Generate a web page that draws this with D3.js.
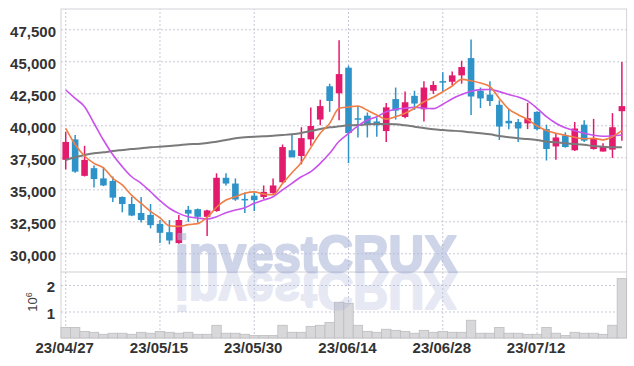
<!DOCTYPE html>
<html><head><meta charset="utf-8">
<script src="https://cdn.jsdelivr.net/npm/d3@7/dist/d3.min.js"></script>
<style>
html,body{margin:0;padding:0;background:#fff;}
svg{display:block;}
.tick text{font-family:"Liberation Sans Narrow","Liberation Sans",Arial,sans-serif;font-size:15px;font-weight:bold;fill:#333;}
</style></head>
<body><svg id="c" width="634" height="366"></svg>
<script>
const dates = ["23/04/27","23/04/28","23/05/02","23/05/03","23/05/04","23/05/08","23/05/09","23/05/10","23/05/11","23/05/12",
"23/05/15","23/05/16","23/05/17","23/05/18","23/05/19","23/05/22","23/05/23","23/05/24","23/05/25","23/05/26",
"23/05/30","23/05/31","23/06/01","23/06/02","23/06/05","23/06/07","23/06/08","23/06/09","23/06/12","23/06/13",
"23/06/14","23/06/15","23/06/16","23/06/19","23/06/20","23/06/21","23/06/22","23/06/23","23/06/26","23/06/27",
"23/06/28","23/06/29","23/06/30","23/07/03","23/07/04","23/07/05","23/07/06","23/07/07","23/07/10","23/07/11",
"23/07/12","23/07/13","23/07/14","23/07/17","23/07/18","23/07/19","23/07/20","23/07/21","23/07/24","23/07/25"];
const open  = [37300,38900,36050,36650,35850,35650,34400,33850,33150,33000,32300,31650,30800,33400,33450,32850,33300,35900,35450,34250,
34500,34400,34700,35550,38050,37600,38900,40450,43050,42500,44500,40550,40750,40300,39550,42050,40650,42300,41250,42700,
43450,43400,43900,45250,42700,42400,41600,40350,40250,40150,41050,39700,38350,39200,38050,40050,38150,37950,38100,41100];
const high  = [39500,39250,38400,36850,36750,36000,34450,34400,34400,33850,32600,32600,33000,33700,33500,33400,36250,36250,35850,34750,
34750,35300,35850,38500,39250,39850,41400,42000,43250,46650,44650,41500,41000,40600,41750,42950,42650,42700,43450,43450,
44150,44200,45050,46700,42950,43450,41950,41300,40500,41750,41100,40050,39350,39450,40250,40400,40500,38600,40950,44950];
const low   = [36550,36300,36000,35150,35250,34000,33200,32900,32400,31950,30800,30700,30750,32450,32400,31350,33250,35300,34100,33150,
33300,34250,34650,35500,37500,36950,38400,40000,41050,40400,37050,39050,39050,39100,38700,40450,40550,41200,40300,42450,
42600,43150,43250,40800,41350,41500,38850,39700,38700,39700,39600,37250,37300,38250,38000,38700,38100,37950,37450,38800];
const close = [38700,36380,37300,35800,35300,34350,33850,32950,32600,32200,31600,31000,32600,33100,32850,33350,35900,35450,34200,34200,
34150,34800,35300,38300,37500,39000,39950,41500,41900,44000,39400,40500,40100,40000,41400,41150,41800,41700,42950,43150,
43400,43900,44550,42250,42100,41900,39900,40150,39750,40550,39700,38150,39050,38300,39750,38800,38950,38350,39850,41500];
const volumeM = [0.40,0.40,0.25,0.215,0.14,0.18,0.18,0.14,0.215,0.18,0.25,0.215,0.18,0.215,0.14,0.14,0.48,0.18,0.18,0.14,
0.09,0.09,0.09,0.48,0.215,0.215,0.44,0.48,0.59,1.35,1.31,0.48,0.25,0.215,0.33,0.29,0.25,0.18,0.29,0.215,
0.25,0.215,0.215,0.67,0.18,0.18,0.40,0.18,0.18,0.14,0.14,0.40,0.18,0.09,0.215,0.18,0.18,0.14,0.48,2.24];
const maShort = [39766,38500,37600,37030,36680,35860,35340,34520,33900,33280,32770,32150,32100,32240,32320,32800,33600,34160,34420,34690,
34800,34620,34580,35450,36300,37100,38260,39380,40150,41330,41430,41510,41170,40800,40480,40670,40940,41330,41840,42190,
42620,43070,43590,43480,43300,43020,42100,41260,40830,40450,39950,39600,39380,39220,39060,38950,38980,38860,39110,39580];
const maMid = [42760,42110,41450,40160,38850,37700,36770,35980,35470,34810,34110,33520,33120,32860,32760,32680,32860,33170,33380,33560,
33910,34160,34420,34950,35470,35980,36380,37030,37810,38750,39360,39950,40410,40670,41060,41250,41330,41410,41330,41300,
41650,42080,42400,42660,42790,42800,42630,42410,42210,41910,41330,40670,40160,39800,39580,39380,39220,39140,39180,39240];
const maLong = [37290,37500,37680,37810,37890,37990,38070,38150,38200,38280,38330,38380,38440,38520,38540,38620,38720,38850,38980,39060,
39110,39140,39190,39240,39300,39400,39550,39710,39840,39920,40000,40020,40080,40100,40100,40080,40000,39890,39790,39690,
39630,39580,39530,39450,39380,39300,39160,39060,38980,38930,38850,38720,38670,38590,38540,38480,38380,38330,38280,38280];
const priceTicks = [30000,32500,35000,37500,40000,42500,45000,47500];
const volumeTicks = [1,2];
const dateTicks = ["23/04/27","23/05/15","23/05/30","23/06/14","23/06/28","23/07/12"];
const watermark = "investCRUX";

const svg = d3.select("#c");
const L = 61, R = 626.6, T = 9, MB = 272, VB = 338;
const UP = "#e31b6d", DOWN = "#2e93c8";
const x = d3.scaleBand().domain(dates).range([L, R]).padding(0);
const bw = x.bandwidth();
const cx = d => x(d) + bw / 2;
const y = d3.scaleLinear().domain([28539, 49086]).range([MB, T]);
const yv = d3.scaleLinear().domain([0, 2.49]).range([VB, MB]);

const gridStyle = g => {
  g.select(".domain").remove();
  g.selectAll(".tick line").attr("stroke", "#c6c8d8").attr("stroke-dasharray", "2,2").attr("stroke-width", 1);
};

// borders
svg.append("rect").attr("x", L).attr("y", T).attr("width", R - L).attr("height", VB - T)
  .attr("fill", "none").attr("stroke", "#d4d4d8").attr("stroke-width", 1);
svg.append("line").attr("x1", L).attr("x2", R).attr("y1", MB).attr("y2", MB).attr("stroke", "#d0d0d4");

// y axis main
svg.append("g").attr("transform", `translate(${L},0)`)
  .call(d3.axisLeft(y).tickValues(priceTicks).tickFormat(d3.format(",")).tickSize(-(R - L)).tickPadding(5))
  .call(gridStyle)
  .selectAll("text").attr("dy", "0.45em");

// volume axis
svg.append("g").attr("transform", `translate(${L},0)`)
  .call(d3.axisLeft(yv).tickValues(volumeTicks).tickFormat(d3.format("d")).tickSize(-(R - L)).tickPadding(6))
  .call(gridStyle)
  .selectAll("text").attr("dy", "0.45em");

// x axis
svg.append("g").attr("transform", `translate(0,${VB})`)
  .call(d3.axisBottom(x).tickValues(dateTicks).tickSize(-(VB - T)).tickPadding(4))
  .call(gridStyle)
  .selectAll("text").attr("dx", "-1");

// 10^6 label
const ul = svg.append("text").attr("transform", "translate(37,302) rotate(-90)")
  .attr("text-anchor", "middle").attr("font-family", "Liberation Sans, Arial, sans-serif")
  .attr("font-size", 13).attr("fill", "#444");
ul.append("tspan").text("10");
ul.append("tspan").attr("dy", -5).attr("font-size", 9).text("6");

// volume bars
svg.append("g").selectAll("rect").data(dates).join("rect")
  .attr("x", d => x(d)).attr("width", bw)
  .attr("y", (d, i) => yv(volumeM[i])).attr("height", (d, i) => yv(0) - yv(volumeM[i]))
  .attr("fill", "#d8d8da").attr("stroke", "#bdbdc0").attr("stroke-width", 0.8);

// candles
const cg = svg.append("g");
cg.selectAll("line").data(dates).join("line")
  .attr("x1", cx).attr("x2", cx)
  .attr("y1", (d, i) => y(high[i])).attr("y2", (d, i) => y(low[i]))
  .attr("stroke", (d, i) => close[i] >= open[i] ? UP : DOWN).attr("stroke-width", 1.5);
const bodyW = 6.6;
cg.selectAll("rect").data(dates).join("rect")
  .attr("x", d => cx(d) - bodyW / 2).attr("width", bodyW)
  .attr("y", (d, i) => y(Math.max(open[i], close[i])))
  .attr("height", (d, i) => Math.max(1.5, Math.abs(y(open[i]) - y(close[i]))))
  .attr("fill", (d, i) => close[i] >= open[i] ? UP : DOWN);

// moving average lines
const line = arr => d3.line().x((d, i) => cx(dates[i])).y(d => y(d)).curve(d3.curveMonotoneX)(arr);
svg.append("path").attr("d", line(maLong)).attr("fill", "none").attr("stroke", "#7a7a7a").attr("stroke-width", 2);
svg.append("path").attr("d", line(maMid)).attr("fill", "none").attr("stroke", "#c951ec").attr("stroke-width", 1.6);
svg.append("path").attr("d", line(maShort)).attr("fill", "none").attr("stroke", "#ef7d45").attr("stroke-width", 1.6);

// watermark and reflection
const wmX = 316, wmY = 271.5;
const wm = (sel) => sel.attr("x", wmX).attr("y", wmY).attr("text-anchor", "middle")
  .attr("font-family", "Liberation Sans, Arial, sans-serif").attr("font-weight", "bold")
  .attr("font-size", 52).attr("textLength", 282).attr("lengthAdjust", "spacingAndGlyphs")
  .attr("stroke-width", 2.2).attr("stroke-linejoin", "round").text(watermark);
svg.append("text").call(wm)
  .attr("fill", "#a9b3d8").attr("stroke", "#a9b3d8").attr("opacity", 0.55);
svg.append("text").call(wm).attr("transform", `translate(0,${2 * wmY + 1}) scale(1,-1)`)
  .attr("fill", "#a9b3d8").attr("stroke", "#a9b3d8").attr("opacity", 0.28);
</script></body></html>
